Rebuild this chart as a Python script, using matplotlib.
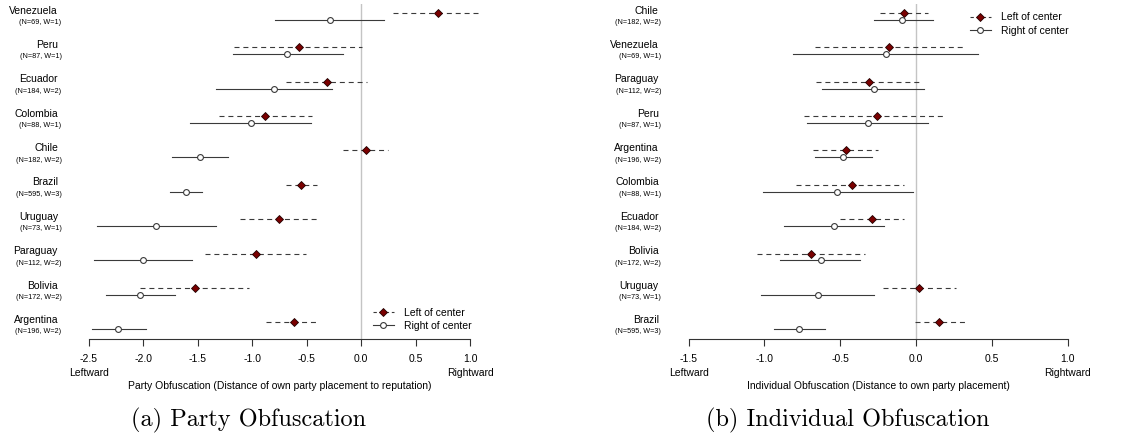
import matplotlib
matplotlib.use("Agg")
import matplotlib.pyplot as plt
import matplotlib.transforms as mtransforms
from matplotlib.lines import Line2D

plt.rcParams["font.family"] = ["Liberation Sans", "DejaVu Sans"]

# panel (a): party obfuscation, top to bottom
a_countries = ["Venezuela", "Peru", "Ecuador", "Colombia", "Chile",
               "Brazil", "Uruguay", "Paraguay", "Bolivia", "Argentina"]
a_n = ["(N=69, W=1)", "(N=87, W=1)", "(N=184, W=2)", "(N=88, W=1)",
       "(N=182, W=2)", "(N=595, W=3)", "(N=73, W=1)", "(N=112, W=2)",
       "(N=172, W=2)", "(N=196, W=2)"]
a_left = [0.71, -0.57, -0.31, -0.88, 0.04, -0.55, -0.75, -0.97, -1.53, -0.62]
a_left_lo = [0.29, -1.17, -0.69, -1.31, -0.17, -0.69, -1.11, -1.43, -2.03, -0.87]
a_left_hi = [1.13, 0.01, 0.05, -0.45, 0.25, -0.41, -0.39, -0.51, -1.03, -0.39]
a_right = [-0.29, -0.68, -0.80, -1.01, -1.48, -1.61, -1.88, -2.00, -2.03, -2.23]
a_right_lo = [-0.79, -1.18, -1.33, -1.57, -1.74, -1.76, -2.43, -2.45, -2.34, -2.47]
a_right_hi = [0.21, -0.17, -0.27, -0.46, -1.22, -1.46, -1.33, -1.55, -1.71, -1.98]

# panel (b): individual obfuscation, top to bottom
b_countries = ["Chile", "Venezuela", "Paraguay", "Peru", "Argentina",
               "Colombia", "Ecuador", "Bolivia", "Uruguay", "Brazil"]
b_n = ["(N=182, W=2)", "(N=69, W=1)", "(N=112, W=2)", "(N=87, W=1)",
       "(N=196, W=2)", "(N=88, W=1)", "(N=184, W=2)", "(N=172, W=2)",
       "(N=73, W=1)", "(N=595, W=3)"]
b_left = [-0.08, -0.18, -0.31, -0.26, -0.46, -0.42, -0.29, -0.69, 0.02, 0.15]
b_left_lo = [-0.24, -0.67, -0.66, -0.74, -0.68, -0.79, -0.50, -1.05, -0.22, -0.01]
b_left_hi = [0.08, 0.31, 0.03, 0.20, -0.25, -0.08, -0.08, -0.34, 0.26, 0.32]
b_right = [-0.09, -0.20, -0.28, -0.32, -0.48, -0.52, -0.54, -0.63, -0.65, -0.77]
b_right_lo = [-0.28, -0.81, -0.62, -0.72, -0.67, -1.01, -0.87, -0.90, -1.02, -0.94]
b_right_hi = [0.11, 0.41, 0.05, 0.08, -0.29, -0.02, -0.21, -0.37, -0.28, -0.60]

a_ticks = [-2.5, -2.0, -1.5, -1.0, -0.5, 0.0, 0.5, 1.0]
b_ticks = [-1.5, -1.0, -0.5, 0.0, 0.5, 1.0]

W, H = 1144, 440
DARKRED = "#7a0000"
LINE = "#3a3a3a"


def draw_panel(fig, rect, countries, ns, lm, llo, lhi, rm, rlo, rhi,
               ticks, xlim, xlabel, label_px, legend_loc, legend_anchor):
    ax = fig.add_axes(rect)
    n = len(countries)
    ys = [n - 1 - i for i in range(n)]
    off = 0.1

    ax.axvline(0, color="#c4c4c4", lw=1.0, zorder=1)
    for y, m, lo, hi in zip(ys, lm, llo, lhi):
        ax.plot([lo, hi], [y + off, y + off], color=LINE, lw=0.8,
                linestyle=(0, (4.5, 3.5)), zorder=2)
    for y, m, lo, hi in zip(ys, rm, rlo, rhi):
        ax.plot([lo, hi], [y - off, y - off], color=LINE, lw=0.8, zorder=2)
    ax.plot(lm, [y + off for y in ys], "D", ms=3.8, mfc=DARKRED,
            mec="#200000", mew=0.6, zorder=3)
    ax.plot(rm, [y - off for y in ys], "o", ms=4.2, mfc="white",
            mec=LINE, mew=0.8, zorder=3)

    ax.set_xlim(*xlim)
    ax.set_ylim(-0.375, n - 1 + 0.36)
    for s in ["top", "right", "left"]:
        ax.spines[s].set_visible(False)
    ax.spines["bottom"].set_bounds(ticks[0], ticks[-1])
    ax.spines["bottom"].set_color("#333333")
    ax.spines["bottom"].set_linewidth(0.8)
    ax.set_yticks([])
    ax.set_xticks(ticks)
    ax.set_xticklabels(["%.1f" % t for t in ticks])
    ax.tick_params(axis="x", length=5, width=0.8, color="#333333",
                   labelsize=7.5, pad=6)

    # row labels left of the plot
    trans = mtransforms.blended_transform_factory(fig.transFigure, ax.transData)
    for y, name, nl in zip(ys, countries, ns):
        ax.text(label_px[0] / W, y + 0.17, name, transform=trans,
                ha="right", va="center", fontsize=7.5)
        ax.text(label_px[1] / W, y - 0.18, nl, transform=trans,
                ha="right", va="center", fontsize=5.2)

    # direction words under the end ticks
    tx = mtransforms.blended_transform_factory(ax.transData, fig.transFigure)
    ax.text(ticks[0], 1 - 372.5 / H, "Leftward", transform=tx,
            ha="center", va="center", fontsize=7.5)
    ax.text(ticks[-1], 1 - 372.5 / H, "Rightward", transform=tx,
            ha="center", va="center", fontsize=7.5)
    ax.text(sum(xlim) / 2, 1 - 386 / H, xlabel, transform=tx,
            ha="center", va="center", fontsize=7.5)

    handles = [
        Line2D([], [], color=LINE, lw=0.8, linestyle=(0, (3, 2.5)),
               marker="D", ms=3.8, mfc=DARKRED, mec="#200000", mew=0.6),
        Line2D([], [], color=LINE, lw=0.8, marker="o", ms=4.2,
               mfc="white", mec=LINE, mew=0.8),
    ]
    ax.legend(handles, ["Left of center", "Right of center"],
              loc=legend_loc, bbox_to_anchor=legend_anchor,
              bbox_transform=fig.transFigure, frameon=False, fontsize=7.5,
              handlelength=2.0, handletextpad=1.0, labelspacing=0.3,
              borderpad=0, borderaxespad=0)
    return ax


fig = plt.figure(figsize=(W / 100, H / 100), dpi=100)

a_xlim = (-2.6, 1.1)
b_xlim = (-1.575, 1.075)
bottom = 1 - 338.7 / H
height = 334.7 / H

draw_panel(fig, [78.1 / W, bottom, 402.8 / W, height],
           a_countries, a_n, a_left, a_left_lo, a_left_hi,
           a_right, a_right_lo, a_right_hi, a_ticks, a_xlim,
           "Party Obfuscation (Distance of own party placement to reputation)",
           (58, 61.5), "lower left", (373 / W, 1 - 331 / H))

draw_panel(fig, [677.3 / W, bottom, 401.8 / W, height],
           b_countries, b_n, b_left, b_left_lo, b_left_hi,
           b_right, b_right_lo, b_right_hi, b_ticks, b_xlim,
           "Individual Obfuscation (Distance to own party placement)",
           (658.7, 661), "upper left", (970 / W, 1 - 12.5 / H))

fig.text(248.7 / W, 1 - 420.5 / H, "(a) Party Obfuscation",
         family="cmr10", fontsize=17.5, ha="center", va="center")
fig.text(847.3 / W, 1 - 420.5 / H, "(b) Individual Obfuscation",
         family="cmr10", fontsize=17.5, ha="center", va="center")

fig.savefig("out.png", dpi=100)
